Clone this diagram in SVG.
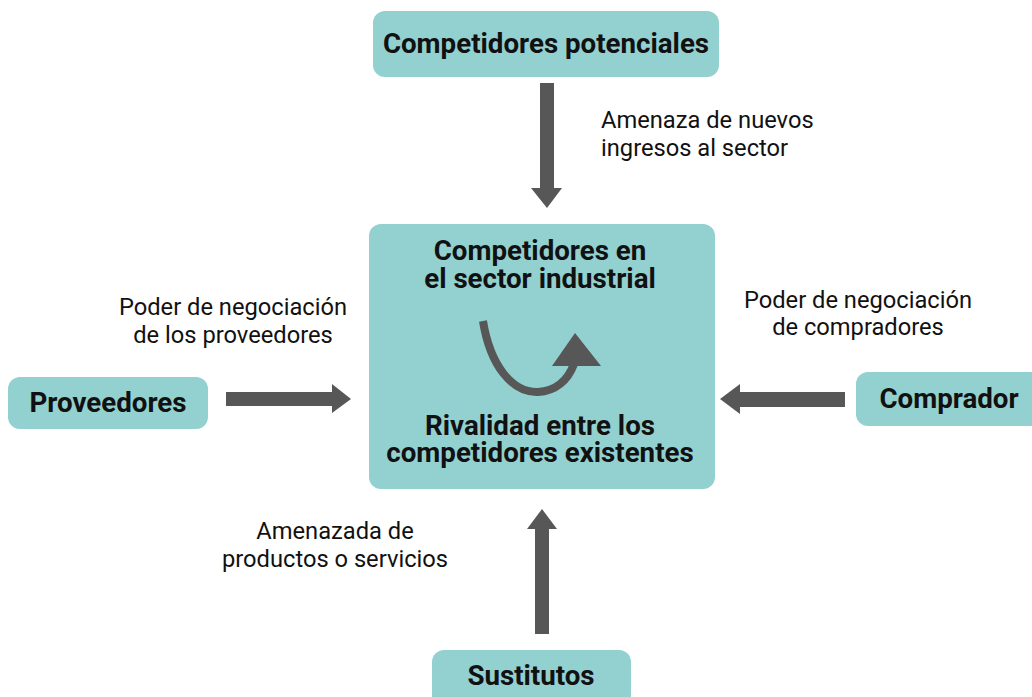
<svg xmlns="http://www.w3.org/2000/svg" width="1032" height="697" viewBox="0 0 1032 697">
<style>
.box{fill:#93d0d0}
.arr{fill:#575757}
.t{font-family:Roboto,"Liberation Sans",sans-serif;font-weight:bold;font-size:27.7px;fill:#111;text-anchor:middle}
.l{font-family:Roboto,"Liberation Sans",sans-serif;font-size:23.7px;fill:#111;text-anchor:middle}
</style>
<rect width="1032" height="697" fill="#fff"/>
<g id="competidores-potenciales">
<rect class="box" x="373" y="11" width="346" height="66" rx="12"/>
<text class="t" x="546" y="53">Competidores potenciales</text>
</g>
<g id="sector">
<rect class="box" x="369" y="224" width="346" height="265" rx="12"/>
<text class="t" x="540" y="260">Competidores en</text>
<text class="t" x="540" y="288">el sector industrial</text>
<text class="t" x="540" y="435">Rivalidad entre los</text>
<text class="t" x="540" y="462">competidores existentes</text>
<path d="M483,321 C490,365 512,393 538,392 C556,391 568,380 574,364" fill="none" stroke="#575757" stroke-width="8"/>
<polygon class="arr" points="575,333 552,366 601,366"/>
</g>
<g id="proveedores">
<rect class="box" x="8" y="377" width="200" height="52" rx="12"/>
<text class="t" x="108" y="412">Proveedores</text>
</g>
<g id="comprador">
<rect class="box" x="856" y="372" width="190" height="54" rx="12"/>
<text class="t" x="949" y="408">Comprador</text>
</g>
<g id="sustitutos">
<rect class="box" x="432" y="650" width="199" height="60" rx="12"/>
<text class="t" x="531" y="685">Sustitutos</text>
</g>
<g id="connectors">
<polygon class="arr" points="540,83 554,83 554,188 562,188 547,208 531,188 540,188"/>
<polygon class="arr" points="226,392 332,392 332,384 351,399 332,413 332,406 226,406"/>
<polygon class="arr" points="845,392 740,392 740,384 720,399 740,414 740,407 845,407"/>
<polygon class="arr" points="535,634 535,529 527,529 542,509 557,529 549,529 549,634"/>
</g>
<g id="labels">
<text class="l" x="601" y="128" text-anchor="start" style="text-anchor:start">Amenaza de nuevos</text>
<text class="l" x="601" y="156" style="text-anchor:start">ingresos al sector</text>
<text class="l" x="233" y="315">Poder de negociación</text>
<text class="l" x="233" y="343">de los proveedores</text>
<text class="l" x="858" y="308">Poder de negociación</text>
<text class="l" x="858" y="335">de compradores</text>
<text class="l" x="335" y="539">Amenazada de</text>
<text class="l" x="335" y="567">productos o servicios</text>
</g>
</svg>
